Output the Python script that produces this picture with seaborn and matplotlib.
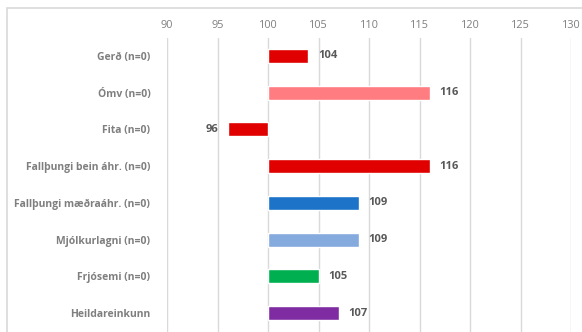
import numpy as np
import pandas as pd
import matplotlib.pyplot as plt
from matplotlib.patches import Rectangle
from matplotlib.ticker import FuncFormatter
import seaborn as sns

sns.set_theme(style="white")
plt.rcParams["font.family"] = ["Open Sans", "DejaVu Sans"]

# ---------- data ----------
categories = [
    "Gerð (n=0)", "Ómv (n=0)", "Fita (n=0)", "Fallþungi bein áhr. (n=0)",
    "Fallþungi mæðraáhr. (n=0)", "Mjólkurlagni (n=0)", "Frjósemi (n=0)",
    "Heildareinkunn",
]
values = [104, 116, 96, 116, 109, 109, 105, 107]
colors = ["#E00000", "#FF7C80", "#E00000", "#E00000",
          "#1C73C8", "#84AADE", "#00B050", "#7F2CA2"]
base = 100
ticks = [90, 95, 100, 105, 110, 115, 120, 125, 130]

df = pd.DataFrame({"cat": categories, "val": values})
df["diff"] = df["val"] - base  # bars grow out from 100

W, H = 582, 332
fig = plt.figure(figsize=(W / 100, H / 100), dpi=100)
ax = fig.add_axes([167 / W, 1 - 331.5 / H, 404 / W, (331.5 - 37.5) / H])

sns.barplot(data=df, x="diff", y="cat", hue="cat", palette=colors,
            orient="h", width=0.38, legend=False, saturation=1, ax=ax)

ax.set_xlim(ticks[0] - base, ticks[-1] - base)
ax.set_xticks([t - base for t in ticks])
ax.xaxis.set_major_formatter(FuncFormatter(lambda v, p: f"{v + base:.0f}"))
ax.xaxis.tick_top()
ax.tick_params(axis="x", length=0, pad=5, labelsize=7.8, labelcolor="#7F7F7F")
ax.tick_params(axis="y", length=0, pad=12, labelsize=7.5)
for lab in ax.get_yticklabels():
    lab.set_fontweight("bold")
    lab.set_color("#7F7F7F")
ax.grid(axis="x", color="#D9D9D9", linewidth=1)
ax.set_axisbelow(True)
for s in ax.spines.values():
    s.set_visible(False)
ax.set_xlabel("")
ax.set_ylabel("")

for cont, v in zip(ax.containers, values):
    ax.bar_label(cont, labels=[str(v)], padding=7, fontsize=8,
                 fontweight="bold", color="#595959")

# outer chart frame (screenshot crop)
fig.patches.append(Rectangle((7 / W, -0.1), 2, 1 - 8 / H + 0.1,
                             transform=fig.transFigure, fill=False,
                             edgecolor="#D9D9D9", linewidth=1.2))

fig.savefig("out.png", dpi=100)
